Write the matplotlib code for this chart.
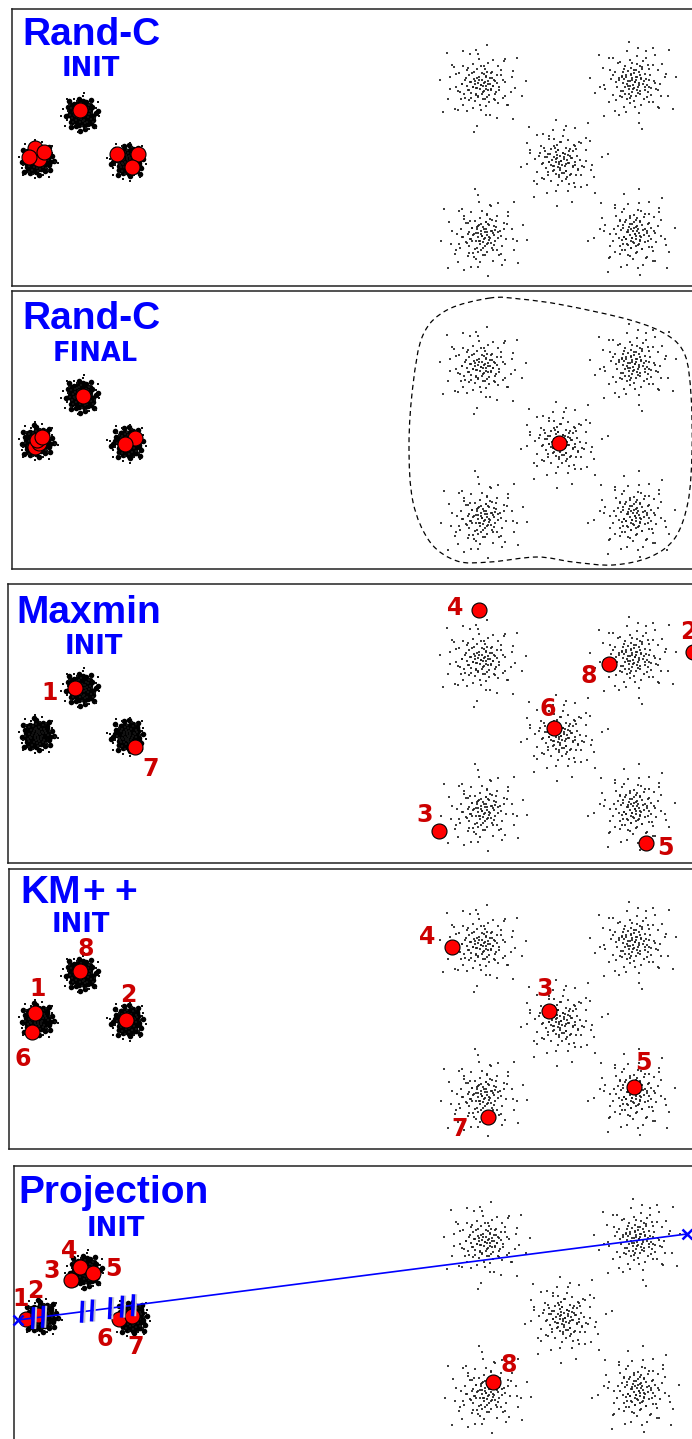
import numpy as np
import matplotlib
matplotlib.use("Agg")
import matplotlib.pyplot as plt
from matplotlib.path import Path
from matplotlib.patches import PathPatch

FIG_W, FIG_H = 692, 1439
DPI = 100

# ------------------------------------------------------------------ data
titles = ["Rand-C", "Rand-C", "Maxmin", "KM++", "Projection"]
subtitles = ["INIT", "FINAL", "INIT", "INIT", "INIT"]

# cluster centres (x in figure px, y in px below panel top)
dense_cx = [81, 37, 128]
dense_cy = [105, 151, 152]
sparse_cx = [481, 635, 561, 482, 635]
sparse_cy = [76, 73, 152, 227, 225]

# point offsets inside one cluster (px), read approximately off a cluster
offset_dx = [0, 3, -4, 6, -2, 8, -7, 2, -9, 5, 11, -6, 10, -12, 1, 13, -3, -11, 7, 14,
             -15, -8, 4, 16, -17, 12, -5, 18, -18, 9, -13, 20, -21, 3, 15, -14, 22, -23, 6, -9,
             24, -25, 19, -20, 27, -28, 0, -2, 29, -30, 25, -26, 33, -34, 10, -12, 36, -37, 18, -20,
             40, -42, 45, -46, 7, -4, 35, -38, 50, -8]
offset_dy = [0, -2, 3, 4, -6, -1, -5, 8, 2, -9, 6, 10, -8, -3, -13, 1, 12, 9, 13, -6,
             5, -14, 16, 10, -8, -15, -18, -2, 14, 19, 17, 6, -1, -21, 17, -19, -11, 8, 23, -23,
             14, -13, -21, 22, -3, 2, 28, -29, 22, -20, -27, 28, 8, -9, 33, -34, -16, 16, 37, -38,
             -30, 30, 12, -6, -44, 46, 38, -36, -4, 52]

# centroids (figure px) and label positions, per panel
p1_cx = [39, 35, 44, 29, 117, 138, 132, 80]
p1_cy = [159, 148, 152, 157, 154, 154, 167, 110]

p2_cx = [35, 39, 37, 42, 135, 125, 83, 559]
p2_cy = [447, 443, 440, 437, 438, 444, 396, 443]
p2_curve_x = [490, 447, 423, 413, 409, 413, 430, 457, 490, 537, 573, 613, 650, 675, 688,
              692, 691, 685, 667, 630, 563, 520]
p2_curve_y = [298, 310, 335, 385, 445, 502, 542, 561, 562, 557, 562, 565, 557, 538, 502,
              452, 395, 355, 335, 320, 305, 299]

labels = ["1", "2", "3", "4", "5", "6", "7", "8"]
p3_cx = [75, 693, 439, 479, 646, 554, 135, 609]
p3_cy = [688, 652, 831, 610, 843, 728, 747, 664]
p3_lx = [50, 688, 425, 455, 665, 548, 151, 589]
p3_ly = [691, 630, 813, 606, 846, 707, 767, 674]

p4_cx = [35, 126, 549, 452, 634, 32, 488, 80]
p4_cy = [1013, 1020, 1011, 947, 1087, 1032, 1117, 971]
p4_lx = [38, 128, 545, 427, 643, 23, 460, 86]
p4_ly = [988, 993, 987, 936, 1062, 1057, 1128, 947]

p5_cx = [26, 38, 71, 80, 93, 119, 132, 493]
p5_cy = [1319, 1315, 1280, 1267, 1273, 1319, 1316, 1382]
p5_lx = [21, 35, 52, 69, 113, 105, 136, 509]
p5_ly = [1297, 1289, 1270, 1250, 1268, 1338, 1345, 1364]
proj_x = [18, 687]
proj_y = [1320, 1234]
boundary_x = [33, 43, 82, 92, 110, 122, 133]

# ------------------------------------------------------------------ layout
panels = [(12, 9, 286), (12, 291, 569), (8, 584, 863), (9, 869, 1149), (14, 1166, 1448)]
RIGHT = 745
cloud_shift = [0, 0, 0, 0, 4]
title_pos = [(22, 45), (22, 329), (16, 623), (20, 903), (18, 1203)]
sub_pos = [(91, 76), (95, 361), (94, 654), (81, 932), (116, 1236)]

BLUE = "#0000ff"
LRED = "#cc0000"

fig = plt.figure(figsize=(FIG_W / DPI, FIG_H / DPI), dpi=DPI)
fig.patch.set_facecolor("white")

B = np.column_stack([offset_dx, offset_dy]).astype(float)
variants = [np.array(m, float) for m in (
    [[1, 0], [0, 1]], [[-1, 0], [0, 1]], [[0, 1], [1, 0]], [[1, 0], [0, -1]],
    [[0, -1], [-1, 0]], [[-1, 0], [0, -1]], [[0, 1], [-1, 0]], [[0, -1], [1, 0]])]


def cloud(cx, cy, k, scales):
    pts = []
    for j, s in enumerate(scales):
        M = variants[(k + 3 * j) % 8]
        pts.append(B @ M.T * s)
    P = np.vstack(pts)
    return P[:, 0] + cx, P[:, 1] + cy


axes = []
for i, (l, t, b) in enumerate(panels):
    ax = fig.add_axes([l / FIG_W, 1 - b / FIG_H, (RIGHT - l) / FIG_W, (b - t) / FIG_H])
    ax.set_xlim(l, RIGHT)
    ax.set_ylim(b, t)
    ax.set_xticks([])
    ax.set_yticks([])
    for sp in ax.spines.values():
        sp.set_color("#222222")
        sp.set_linewidth(1.1)
    sx = cloud_shift[i]
    # sparse clusters
    for k in range(5):
        x, y = cloud(sparse_cx[k] + sx, t + sparse_cy[k], k, [0.9, 0.68])
        ax.scatter(x, y, s=4.6, marker="s", color="#1e1e1e", alpha=0.85,
                   linewidths=0, zorder=2)
    # dense clusters
    for k in range(3):
        x, y = cloud(dense_cx[k] + sx, t + dense_cy[k], k + 2, [0.33, 0.25, 0.17, 0.1])
        ax.scatter(x, y, s=16, marker="o", color="black", linewidths=0, zorder=2)
        x, y = cloud(dense_cx[k] + sx, t + dense_cy[k], k + 5, [0.4])
        ax.scatter(x, y, s=4, marker="s", color="#111111", linewidths=0, zorder=2)
    ax.text(title_pos[i][0], title_pos[i][1], "KM" if titles[i] == "KM++" else titles[i],
            family="Liberation Sans", fontweight="bold", fontsize=28, color=BLUE,
            ha="left", va="baseline", zorder=6)
    if titles[i] == "KM++":
        for px in (94, 126):
            ax.text(px, title_pos[i][1], "+", family="Liberation Sans", fontweight="bold",
                    fontsize=28, color=BLUE, ha="center", va="baseline", zorder=6)
    ax.text(sub_pos[i][0], sub_pos[i][1], subtitles[i], family="DejaVu Sans",
            fontweight="bold", fontsize=18.5, color=BLUE, ha="center", va="baseline", zorder=6)
    axes.append(ax)


def centroids(ax, xs, ys):
    for x, y in zip(xs, ys):
        ax.plot([x], [y], "o", ms=10.8, mfc="#ff0000", mec="black", mew=0.8, zorder=5)


def numbers(ax, xs, ys):
    for lab, x, y in zip(labels, xs, ys):
        ax.text(x, y + 8.5, lab, family="DejaVu Sans", fontweight="bold", fontsize=17,
                color=LRED, ha="center", va="baseline", zorder=7)


centroids(axes[0], p1_cx, p1_cy)
centroids(axes[1], p2_cx, p2_cy)

# dashed closed curve (Catmull-Rom through the read points, as cubic Beziers)
P = np.column_stack([p2_curve_x, p2_curve_y]).astype(float)
n = len(P)
verts = [P[0]]
codes = [Path.MOVETO]
for i in range(n):
    p0, p1, p2, p3 = P[i - 1], P[i], P[(i + 1) % n], P[(i + 2) % n]
    verts += [p1 + (p2 - p0) / 6, p2 - (p3 - p1) / 6, p2]
    codes += [Path.CURVE4] * 3
axes[1].add_patch(PathPatch(Path(verts, codes), fill=False, ls=(0, (4, 3)),
                            lw=0.9, color="black", zorder=4))

centroids(axes[2], p3_cx, p3_cy)
numbers(axes[2], p3_lx, p3_ly)
centroids(axes[3], p4_cx, p4_cy)
numbers(axes[3], p4_lx, p4_ly)
centroids(axes[4], p5_cx, p5_cy)
numbers(axes[4], p5_lx, p5_ly)

ax = axes[4]
ax.plot(proj_x, proj_y, color=BLUE, lw=1.2, zorder=6)
ax.plot(proj_x, proj_y, "x", color=BLUE, ms=7, mew=1.8, zorder=6, clip_on=False)
slope = (proj_y[1] - proj_y[0]) / (proj_x[1] - proj_x[0])
for bx in boundary_x:
    by = proj_y[0] + slope * (bx - proj_x[0])
    ax.plot([bx - 0.5 + 2.6, bx + 0.5 + 2.6], [by + 11, by - 11], color="#c8c8d0",
            lw=1.6, solid_capstyle="butt", zorder=7)
    ax.plot([bx - 0.5, bx + 0.5], [by + 11, by - 11], color=BLUE, lw=2.5,
            solid_capstyle="butt", zorder=8)

fig.savefig("out.png", dpi=DPI, facecolor="white")
